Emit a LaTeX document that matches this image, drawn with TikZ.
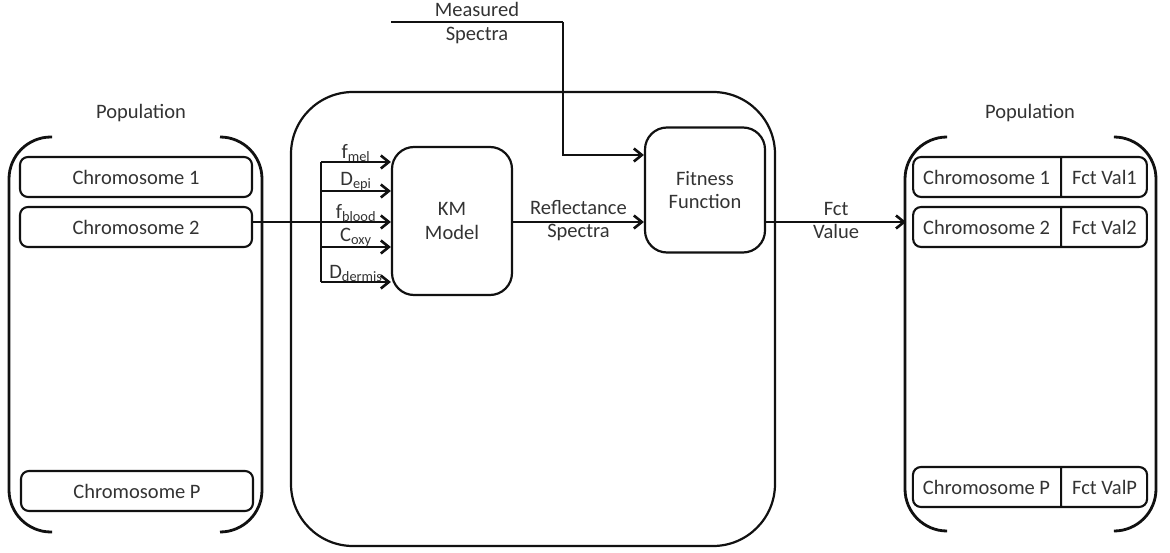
\documentclass[tikz,border=0pt]{standalone}
\usepackage{fontspec}
\setmainfont{Carlito}
\usepackage{tikz}
\usetikzlibrary{arrows.meta, positioning, shapes.multipart}
\definecolor{ink}{HTML}{333333}
\definecolor{edge}{HTML}{111111}
\tikzset{
  txt/.style={font=\fontsize{20.5}{23.5}\selectfont, text=ink, align=center, inner sep=0pt},
  chrom/.style={txt, rectangle, rounded corners=8pt, draw=edge, line width=2.1pt,
                minimum width=232pt, minimum height=40pt},
  chromval/.style={txt, rectangle split, rectangle split horizontal,
                   rectangle split parts=2, rounded corners=8pt, draw=edge,
                   line width=2.1pt, minimum height=40pt, inner xsep=10pt},
  block/.style={txt, rectangle, rounded corners=22pt, draw=edge, line width=2.2pt},
  bracket/.style={draw=edge, line width=2.8pt, rounded corners=42pt},
  line/.style={draw=edge, line width=2.8pt},
  arrow/.style={line, -{Straight Barb[length=8pt, width=13pt, line width=2.6pt]}},
  lbl/.style={txt, above=-1pt},
}

\begin{document}
\begin{tikzpicture}[x=1pt, y=-1pt]
  \useasboundingbox (0,0) rectangle (1170,553);

  % left population
  \node[txt] (popl) at (141,113) {Population};
  \draw[bracket] (52,137) -- (9,137) -- (9,532) -- (52,532);
  \draw[bracket] (220,137) -- (262,137) -- (262,532) -- (220,532);
  \node[chrom] (c1) at (136,177) {Chromosome 1};
  \node[chrom] (c2) at (136,227) {Chromosome 2};
  \node[chrom] (cp) at (137,491) {Chromosome P};

  % evaluation
  \node[block, rounded corners=62pt, minimum width=484pt, minimum height=454pt]
    (eval) at (533,319) {};
  \node[block, minimum width=120pt, minimum height=148pt] (km) at (452,221)
    {KM\\Model};
  \node[block, minimum width=120pt, minimum height=125pt] (fit) at (705,190)
    {Fitness\\Function};

  % right population
  \node[txt] (popr) at (1030,113) {Population};
  \draw[bracket] (945,137) -- (905,137) -- (905,531) -- (945,531);
  \draw[bracket] (1115,137) -- (1156,137) -- (1156,531) -- (1115,531);
  \node[chromval] (r1) at (1030,177)
    {Chromosome 1\nodepart{two}Fct Val1};
  \node[chromval] (r2) at (1030,227)
    {Chromosome 2\nodepart{two}Fct Val2};
  \node[chromval] (rp) at (1030,487)
    {Chromosome P\nodepart{two}Fct ValP};

  % inputs of the model
  \coordinate (b1) at (321,162);
  \coordinate (b2) at (321,191);
  \coordinate (b3) at (321,222);
  \coordinate (b4) at (321,247);
  \coordinate (b5) at (321,282);
  \draw[line] (b1) -- (b5);
  \draw[line] (c2.east |- b3) -- (b3);
  \draw[arrow] (b1) -- (km.west |- b1) node[lbl, midway] {f\textsubscript{mel}};
  \draw[arrow] (b2) -- (km.west |- b2) node[lbl, midway] {D\textsubscript{epi}};
  \draw[arrow] (b3) -- (km.west |- b3) node[lbl, midway] {f\textsubscript{blood}};
  \draw[arrow] (b4) -- (km.west |- b4) node[lbl, midway] {C\textsubscript{oxy}};
  \draw[arrow] (b5) -- (km.west |- b5) node[lbl, midway] {D\textsubscript{dermis}};

  % spectra and fitness
  \coordinate (ms) at (391,22);
  \coordinate (bend) at (563,22);
  \draw[line] (ms) -- (bend) node[txt, midway, yshift=-1pt] {Measured\\Spectra};
  \draw[arrow] (bend) |- ([yshift=35pt]fit.west);
  \draw[arrow] (km.east |- b3) -- (fit.west |- b3)
    node[txt, midway, yshift=1.5pt] {Reflectance\\Spectra};
  \draw[arrow] (fit.east |- b3) -- ([xshift=-6pt]r2.west |- b3)
    node[txt, midway, yshift=1.5pt] {Fct\\Value};
\end{tikzpicture}
\end{document}
